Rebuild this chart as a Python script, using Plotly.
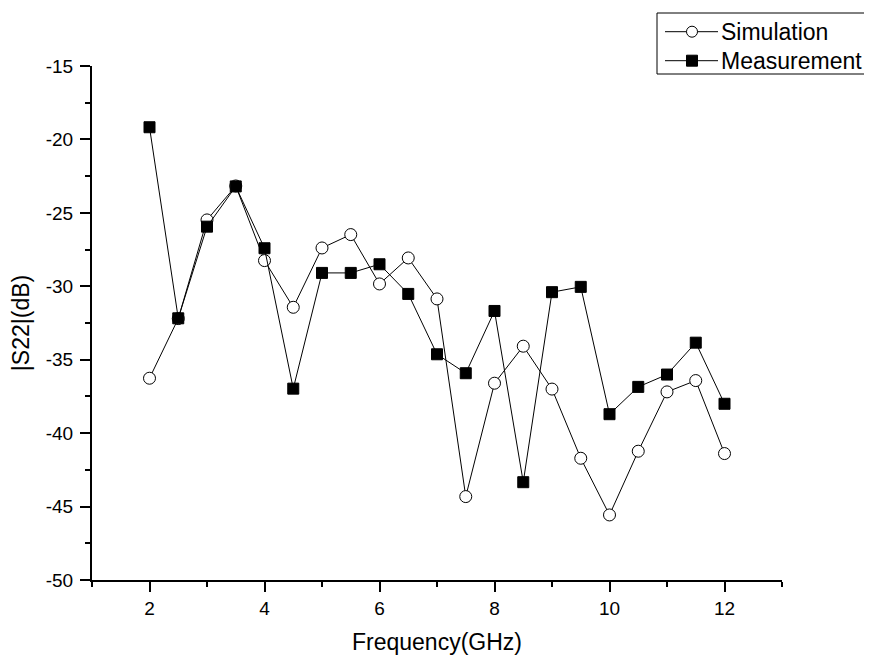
import plotly.graph_objects as go

freq = [2, 2.5, 3, 3.5, 4, 4.5, 5, 5.5, 6, 6.5, 7, 7.5, 8, 8.5, 9, 9.5, 10, 10.5, 11, 11.5, 12]
simulation = [-36.26, -32.2, -25.48, -23.17, -28.25, -31.43, -27.39, -26.48, -29.84, -28.07,
              -30.86, -44.32, -36.6, -34.08, -37.0, -41.71, -45.57, -41.23, -37.19, -36.42, -41.39]
measurement = [-19.17, -32.18, -25.94, -23.2, -27.41, -36.97, -29.09, -29.09, -28.5, -30.52,
               -34.63, -35.92, -31.68, -43.34, -30.4, -30.04, -38.71, -36.85, -36.01, -33.84, -38.0]
x_ticks = [2, 4, 6, 8, 10, 12]
y_ticks = [-50, -45, -40, -35, -30, -25, -20, -15]
series_names = ["Simulation", "Measurement"]

FONT = "Liberation Sans, Arial, sans-serif"

# figure geometry (page body adds an 8px offset)
W, H = 864, 650
ML, MR, MT, MB = 84, 90, 58, 78
PW, PH = W - ML - MR, H - MT - MB


def px(xpix):
    return (xpix - ML) / PW


def py(ypix):
    return (H - MB - ypix) / PH


fig = go.Figure()
fig.add_trace(go.Scatter(
    x=freq, y=simulation, name=series_names[0], mode="lines+markers",
    line=dict(color="black", width=1),
    marker=dict(symbol="circle", size=12, color="white", line=dict(color="black", width=1)),
))
fig.add_trace(go.Scatter(
    x=freq, y=measurement, name=series_names[1], mode="lines+markers",
    line=dict(color="black", width=1),
    marker=dict(symbol="square", size=11, color="black", line=dict(color="black", width=1)),
))

# Origin-style legend box
shapes = [dict(type="rect", xref="paper", yref="paper",
               x0=px(649), x1=px(863), y0=py(66), y1=py(5),
               line=dict(color="black", width=1), fillcolor="white", layer="above")]
annotations = []
rows = [23.7, 52.7]
for i, name in enumerate(series_names):
    yr = py(rows[i])
    shapes.append(dict(type="line", xref="paper", yref="paper",
                       x0=px(657), x1=px(710), y0=yr, y1=yr,
                       line=dict(color="black", width=1), layer="above"))
    if i == 0:
        shapes.append(dict(type="circle", xref="paper", yref="paper",
                           xsizemode="pixel", ysizemode="pixel",
                           xanchor=px(684), yanchor=yr, x0=-5.5, x1=5.5, y0=-5.5, y1=5.5,
                           line=dict(color="black", width=1), fillcolor="white", layer="above"))
    else:
        shapes.append(dict(type="rect", xref="paper", yref="paper",
                           xsizemode="pixel", ysizemode="pixel",
                           xanchor=px(684), yanchor=yr, x0=-5.5, x1=5.5, y0=-5.5, y1=5.5,
                           line=dict(color="black", width=1), fillcolor="black", layer="above"))
    annotations.append(dict(text=name, xref="paper", yref="paper", x=px(711), y=yr,
                            xanchor="left", yanchor="middle", showarrow=False,
                            font=dict(family=FONT, size=23, color="black")))

fig.update_layout(
    width=W, height=H,
    margin=dict(l=ML, r=MR, t=MT, b=MB, autoexpand=False),
    paper_bgcolor="white", plot_bgcolor="white",
    font=dict(family=FONT, size=19, color="black"),
    showlegend=False,
    shapes=shapes,
    annotations=annotations,
    xaxis=dict(
        range=[1, 13], tickvals=x_ticks, ticktext=[str(v) for v in x_ticks],
        showgrid=False, zeroline=False,
        showline=True, linecolor="black", linewidth=2,
        ticks="outside", ticklen=10, tickwidth=2, tickcolor="black",
        minor=dict(dtick=1, tick0=1, ticks="outside", ticklen=5, tickwidth=2, tickcolor="black", showgrid=False),
        title=dict(text="Frequency(GHz)", standoff=16, font=dict(size=23)),
        automargin=False,
    ),
    yaxis=dict(
        range=[-50, -15], tickvals=y_ticks, ticktext=[str(v) for v in y_ticks],
        showgrid=False, zeroline=False,
        showline=True, linecolor="black", linewidth=2,
        ticks="outside", ticklen=10, tickwidth=2, tickcolor="black",
        ticklabelstandoff=3,
        minor=dict(dtick=2.5, tick0=-50, ticks="outside", ticklen=5, tickwidth=2, tickcolor="black", showgrid=False),
        title=dict(text="|S22|(dB)", standoff=10, font=dict(size=23)),
        automargin=False,
    ),
)

fig.write_html("out.html")
